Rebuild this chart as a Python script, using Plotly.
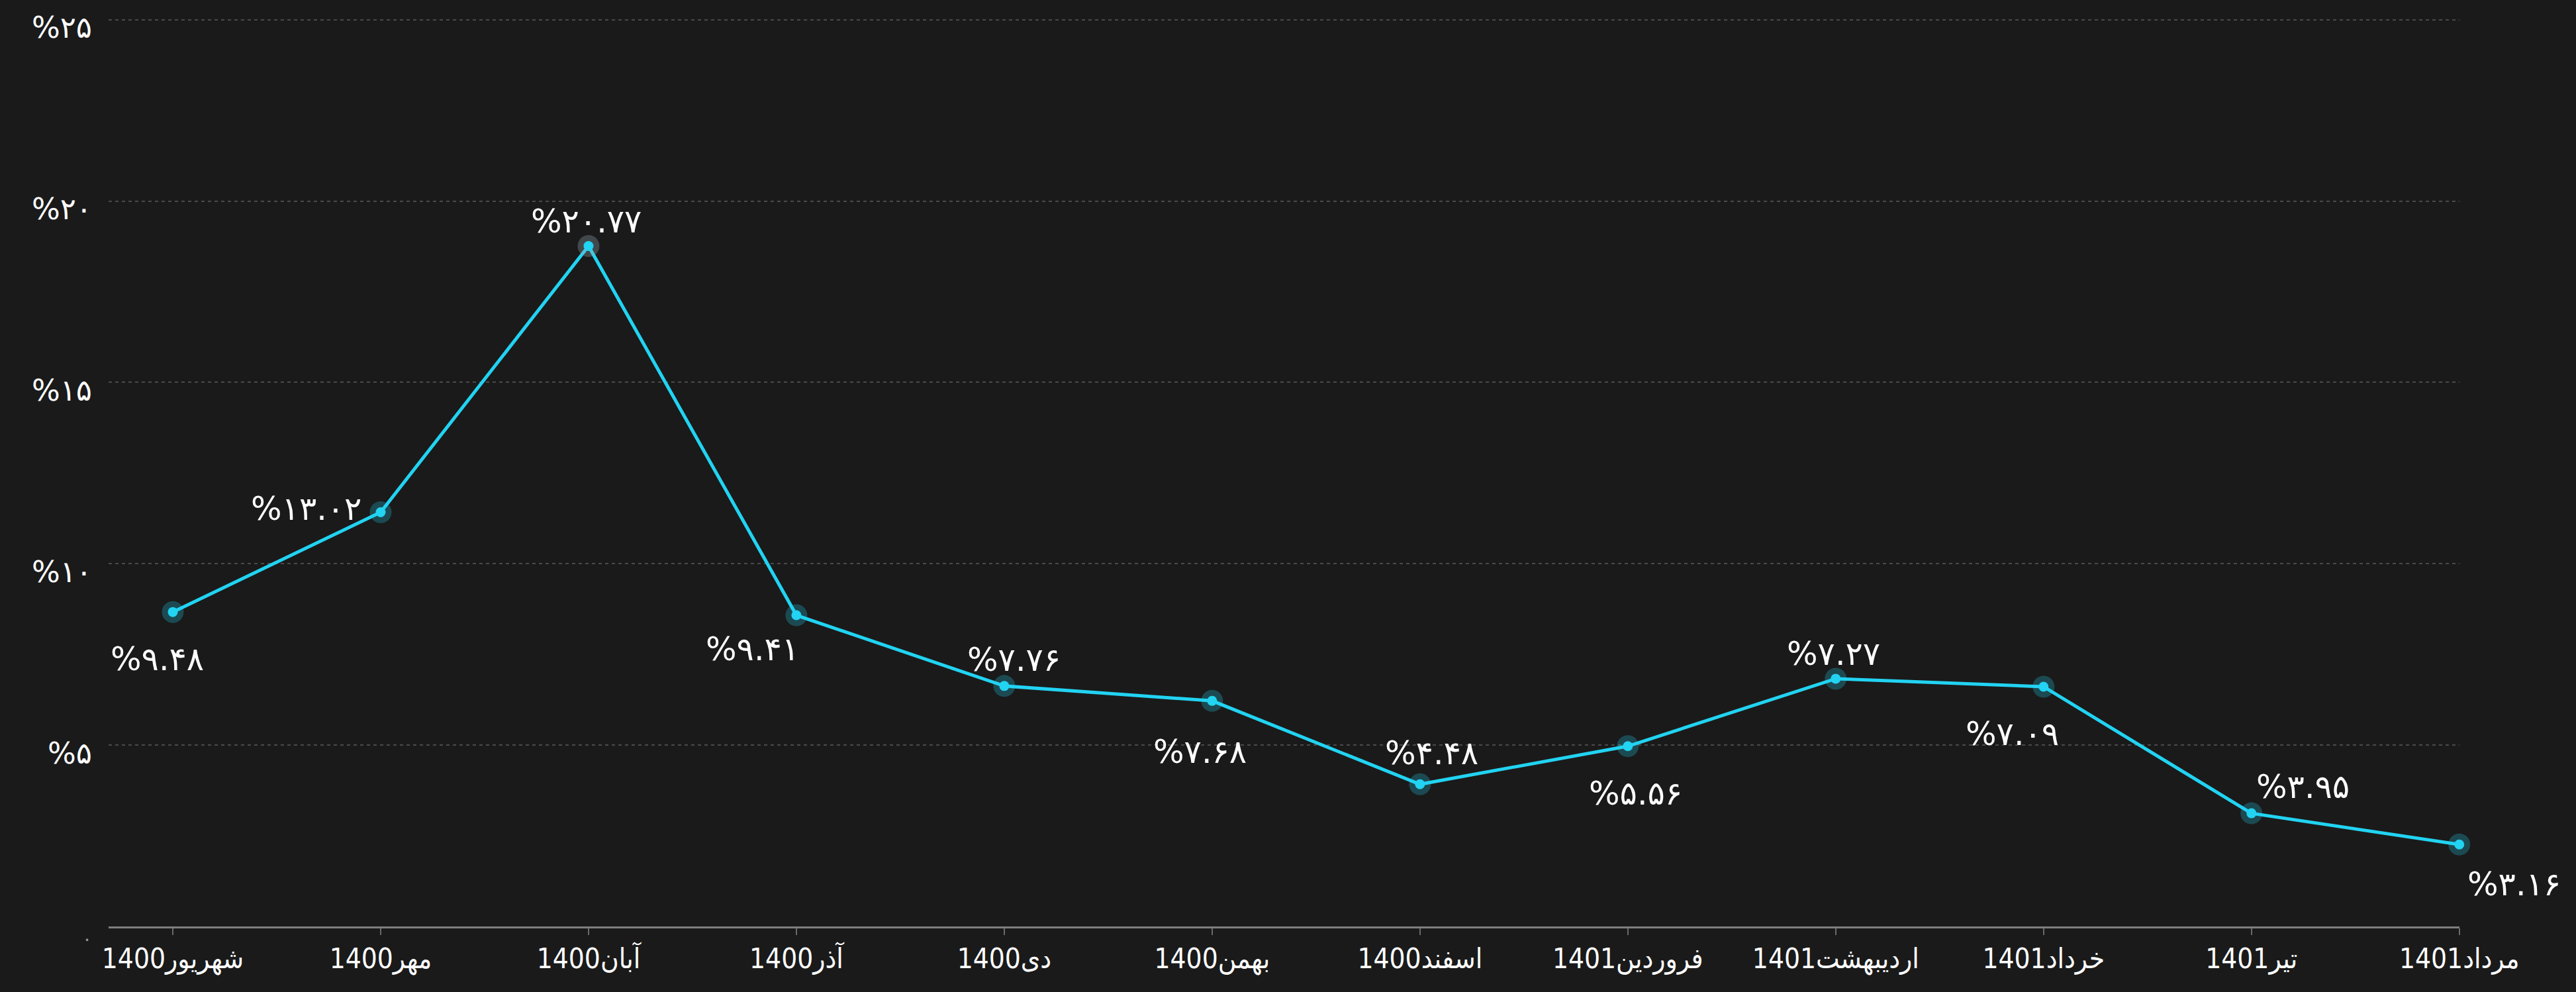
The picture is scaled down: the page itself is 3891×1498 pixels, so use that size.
import plotly.graph_objects as go

# ---- data ----
months = ["شهریور1400", "مهر1400", "آبان1400", "آذر1400", "دی1400", "بهمن1400",
          "اسفند1400", "فروردین1401", "اردیبهشت1401", "خرداد1401", "تیر1401", "مرداد1401"]
values = [8.67, 11.42, 18.76, 8.58, 6.63, 6.22, 3.92, 4.97, 6.83, 6.61, 3.12, 2.26]
value_labels = ["%۹.۴۸", "%۱۳.۰۲", "%۲۰.۷۷", "%۹.۴۱", "%۷.۷۶", "%۷.۶۸",
                "%۴.۴۸", "%۵.۵۶", "%۷.۲۷", "%۷.۰۹", "%۳.۹۵", "%۳.۱۶"]
y_ticks = [0, 5, 10, 15, 20, 25]
y_tick_labels = ["۰", "%۵", "%۱۰", "%۱۵", "%۲۰", "%۲۵"]

# ---- style / layout (pixel offsets of the value labels relative to points) ----
label_shift = [(-24, -71), (-112, 5), (-3, 37), (-66, -51), (15, 39), (-18, -77),
               (18, 47), (12, -72), (-3, 37), (-47, -72), (78, 40), (83, -60)]

BG = "#1a1a1a"
CYAN = "#22d3f2"
FONT_AR = "DejaVu Sans, Noto Sans, sans-serif"

idx = list(range(len(months)))

fig = go.Figure()
halo_colors = ["rgba(34,211,242,0.26)"] * len(months)
halo_colors[2] = "rgba(150,170,185,0.32)"

fig.add_trace(go.Scatter(
    x=idx, y=values, mode="lines",
    line=dict(color=CYAN, width=5),
    hoverinfo="skip", showlegend=False, cliponaxis=False,
))
fig.add_trace(go.Scatter(
    x=idx, y=values, mode="markers",
    marker=dict(size=33, color=halo_colors, line=dict(width=0)),
    hoverinfo="skip", showlegend=False, cliponaxis=False,
))
fig.add_trace(go.Scatter(
    x=idx, y=values, mode="markers",
    marker=dict(size=15, color=CYAN, line=dict(width=0)),
    text=value_labels, hovertemplate="%{text}<extra></extra>",
    showlegend=False, cliponaxis=False,
))

for i, (lab, (dx, dy)) in enumerate(zip(value_labels, label_shift)):
    fig.add_annotation(
        x=idx[i], y=values[i], text=lab, showarrow=False,
        xshift=dx, yshift=dy,
        font=dict(family=FONT_AR, size=49, color="#ffffff"),
    )

ytext = []
for v, t in zip(y_ticks, y_tick_labels):
    if v == 0:
        ytext.append("<span style='font-size:28px;color:#9a9a9a'>" + t + "</span>")
    else:
        ytext.append(t)

fig.update_layout(
    width=3891, height=1498, autosize=False,
    paper_bgcolor=BG, plot_bgcolor=BG,
    margin=dict(l=164, r=176, t=27, b=99),
    font=dict(family=FONT_AR, color="#ffffff"),
    xaxis=dict(
        tickmode="array", tickvals=idx, ticktext=months,
        range=[-0.309, 11.001],
        showgrid=False, zeroline=False,
        showline=True, linecolor="#7d7d7d", linewidth=3,
        ticks="outside", ticklen=10, tickwidth=2, tickcolor="#6a6a6a",
        tickfont=dict(family="DejaVu Sans Condensed, DejaVu Sans, sans-serif", size=42, color="#ffffff"),
        fixedrange=True,
    ),
    yaxis=dict(
        tickmode="array", tickvals=y_ticks, ticktext=ytext,
        range=[0, 25.05],
        showgrid=True, gridcolor="#4a4a4a", gridwidth=2, griddash="5px,5px",
        zeroline=False, showline=False, ticks="",
        tickfont=dict(family=FONT_AR, size=45, color="#ffffff"),
        ticklabelstandoff=24, ticklabelshift=12,
        fixedrange=True,
    ),
)

fig.write_html("out.html", config={"displayModeBar": False},
               post_script="document.body.style.margin='0';document.body.style.overflow='hidden';")
